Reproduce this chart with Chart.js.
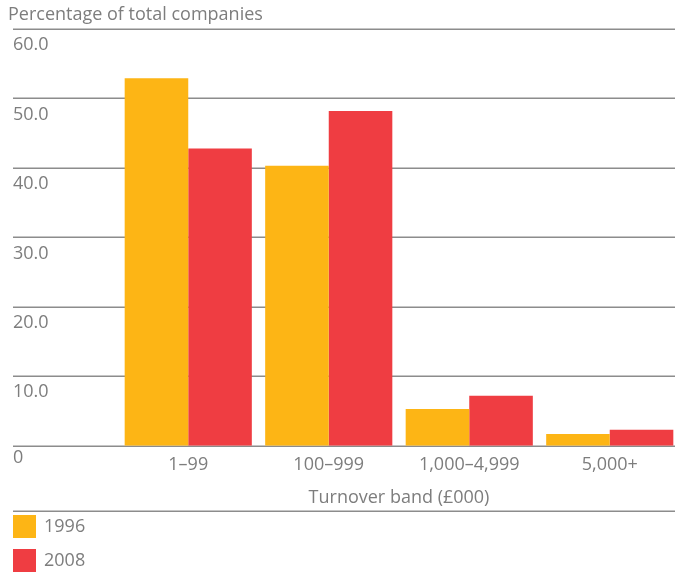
<!DOCTYPE html>
<html>
<head>
<meta charset="utf-8">
<script src="https://cdn.jsdelivr.net/npm/chart.js@4/dist/chart.umd.min.js"></script>
<style>
  html, body { margin: 0; padding: 0; background: #fff; overflow: hidden; }
  #wrap { width: 690px; height: 573px; }
</style>
</head>
<body>
<div id="wrap"><canvas id="turnoverChart"></canvas></div>
<script>
const categories = ['1–99', '100–999', '1,000–4,999', '5,000+'];
const values1996 = [52.9, 40.3, 5.3, 1.7];
const values2008 = [42.8, 48.2, 7.2, 2.3];
const seriesNames = ['1996', '2008'];
const yTickValues = [0, 10, 20, 30, 40, 50, 60];
const yTickLabels = ['0', '10.0', '20.0', '30.0', '40.0', '50.0', '60.0'];
const yTitle = 'Percentage of total companies';
const xTitle = 'Turnover band (£000)';

const FONT = '"Open Sans", "Noto Sans", sans-serif';
const TEXT = '#7d7d7d';
const LINE = '#8c8c8c';

// gridlines, y labels and the legend run across the full width, so draw them here
const sidePlugin = {
    id: 'sideDecor',
    beforeDatasetsDraw(chart) {
        const ctx = chart.ctx;
        const y = chart.scales.y;
        ctx.save();
        ctx.strokeStyle = LINE;
        ctx.lineWidth = 1.5;
        yTickValues.forEach(v => {
            const py = Math.round(y.getPixelForValue(v)) + 0.25;
            ctx.beginPath();
            ctx.moveTo(13, py);
            ctx.lineTo(675, py);
            ctx.stroke();
        });
        ctx.restore();
    },
    afterDraw(chart) {
        const ctx = chart.ctx;
        const y = chart.scales.y;
        ctx.save();
        ctx.fillStyle = TEXT;
        ctx.font = '18px ' + FONT;
        ctx.textAlign = 'left';
        ctx.textBaseline = 'middle';
        ctx.fillText(yTitle, 8, 15);
        yTickValues.forEach((v, i) => {
            const py = y.getPixelForValue(v);
            ctx.fillText(yTickLabels[i], 13, py + (v === 0 ? 12 : 16));
        });

        // legend
        ctx.strokeStyle = LINE;
        ctx.lineWidth = 1.5;
        ctx.beginPath();
        ctx.moveTo(13, 511.25);
        ctx.lineTo(675, 511.25);
        ctx.stroke();
        chart.data.datasets.forEach((ds, i) => {
            const top = 515 + i * 34;
            ctx.fillStyle = ds.backgroundColor;
            ctx.fillRect(13, top, 23, 23);
            ctx.fillStyle = TEXT;
            ctx.fillText(ds.label, 44, top + 12);
        });
        ctx.restore();
    }
};

new Chart(document.getElementById('turnoverChart'), {
    type: 'bar',
    data: {
        labels: categories,
        datasets: [{
            label: seriesNames[0],
            data: values1996,
            backgroundColor: '#fdb515',
            borderWidth: 0
        }, {
            label: seriesNames[1],
            data: values2008,
            backgroundColor: '#ef3d42',
            borderWidth: 0
        }]
    },
    options: {
        responsive: true,
        maintainAspectRatio: false,
        animation: false,
        layout: {
            padding: { left: 118, right: 10, top: 29, bottom: 64 }
        },
        plugins: {
            legend: { display: false },
            tooltip: { enabled: false }
        },
        datasets: {
            bar: { barPercentage: 1.0, categoryPercentage: 0.905 }
        },
        scales: {
            y: {
                display: false,
                min: 0,
                max: 60
            },
            x: {
                grid: { display: false, drawTicks: false },
                border: { display: false },
                ticks: {
                    color: TEXT,
                    padding: 8,
                    font: { family: FONT, size: 18 }
                },
                title: {
                    display: true,
                    text: xTitle,
                    color: TEXT,
                    padding: { top: 4, bottom: 0 },
                    font: { family: FONT, size: 18 }
                }
            }
        }
    },
    plugins: [sidePlugin]
});
</script>
</body>
</html>
